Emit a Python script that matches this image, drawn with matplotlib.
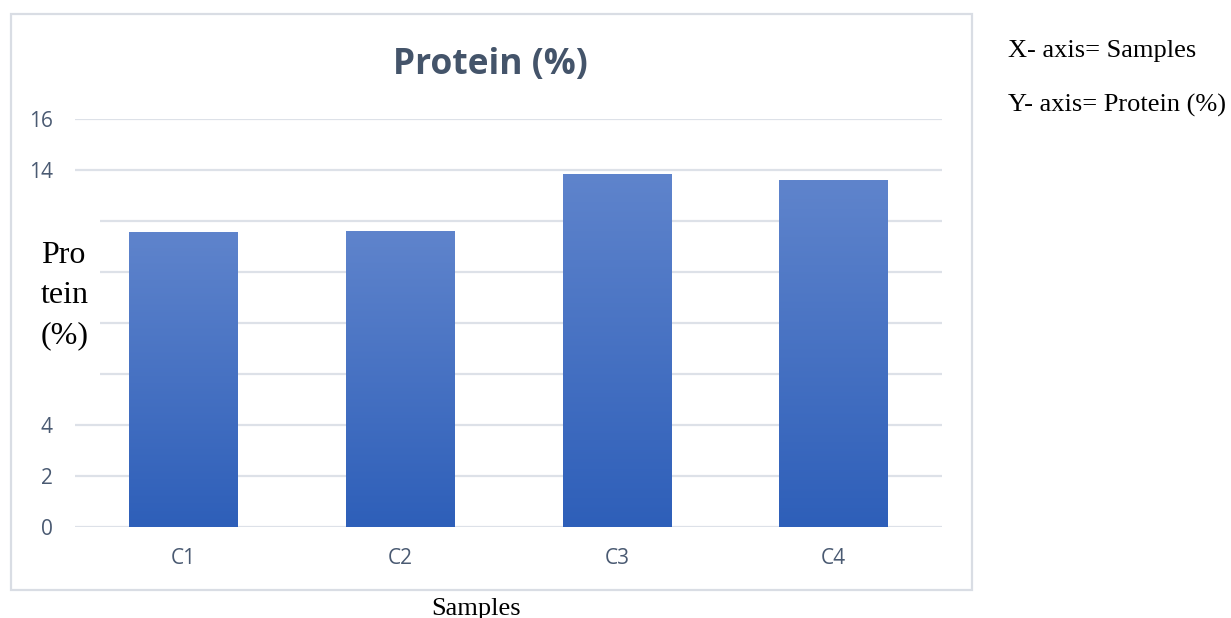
import matplotlib.pyplot as plt
import numpy as np
from matplotlib.colors import LinearSegmentedColormap
from matplotlib.patches import Rectangle

# protein content per sample
samples = ['C1', 'C2', 'C3', 'C4']
protein = [11.55, 11.6, 13.85, 13.6]
y_ticks = [0, 2, 4, 6, 8, 10, 12, 14, 16]
# tick values whose labels sit under the pasted caption
y_hidden = [6, 8, 10, 12]

W, H = 1231, 618
SLATE = '#44546a'


def fig_xy(px, py):
    """pixel position (from top-left) -> figure fraction"""
    return px / W, 1 - py / H


fig = plt.figure(figsize=(W / 100, H / 100), dpi=100)

# chart frame
x0, y0 = fig_xy(11, 590)
x1, y1 = fig_xy(972, 14)
fig.patches.append(Rectangle((x0, y0), x1 - x0, y1 - y0, transform=fig.transFigure,
                             fill=False, edgecolor='#d9dde4', linewidth=1.6, zorder=0))

left, bottom = fig_xy(75, 527)
right, top = fig_xy(942, 119)
ax = fig.add_axes([left, bottom, right - left, top - bottom])

x = np.arange(len(samples))
bars = ax.bar(x, protein, width=0.5, color='#4a72c4', zorder=2)

# vertical gradient fill inside each bar
grad_cmap = LinearSegmentedColormap.from_list('bar_grad', ['#2e5fb9', '#5f84cc'])
grad = np.linspace(0, 1, 256).reshape(-1, 1)
for b in bars:
    bx, bw, bh = b.get_x(), b.get_width(), b.get_height()
    im = ax.imshow(grad, cmap=grad_cmap, origin='lower', aspect='auto',
                   extent=[bx, bx + bw, 0, bh], zorder=3)
    im.set_clip_path(b)

ax.set_xlim(-0.5, len(samples) - 0.5)
ax.set_ylim(0, 16)
ax.set_yticks(y_ticks)
ax.set_yticklabels(['' if t in y_hidden else str(t) for t in y_ticks])
ax.set_xticks(x)
ax.set_xticklabels(samples)
ax.grid(axis='y', color='#dde1e8', linewidth=1.6, zorder=1)
ax.set_axisbelow(True)
for s in ax.spines.values():
    s.set_visible(False)
ax.tick_params(axis='both', length=0, labelsize=15, colors='#4a5a72',
               labelfontfamily='Open Sans')
ax.tick_params(axis='y', pad=16)
ax.tick_params(axis='x', pad=15)

fig.text(*fig_xy(490, 74), 'Protein (%)', ha='center', va='baseline',
         fontsize=25.5, fontweight='bold', color=SLATE, family='Open Sans')

# white patch with the pasted y-axis caption
bx0, by0 = fig_xy(30, 395)
bx1, by1 = fig_xy(100, 213)
fig.patches.append(Rectangle((bx0, by0), bx1 - bx0, by1 - by0, transform=fig.transFigure,
                             facecolor='white', edgecolor='none', zorder=5))
for line, base in zip(['Pro', 'tein', '(%)'], [263, 303, 343]):
    fig.text(*fig_xy(41, base), line, ha='left', va='baseline', fontsize=23,
             family='Liberation Serif', color='black', zorder=6)

fig.text(*fig_xy(476, 615), 'Samples', ha='center', va='baseline', fontsize=19,
         family='Liberation Serif', color='black')
fig.text(*fig_xy(1008, 57), 'X- axis= Samples', ha='left', va='baseline', fontsize=19,
         family='Liberation Serif', color='black')
fig.text(*fig_xy(1008, 112), 'Y- axis= Protein (%)', ha='left', va='baseline', fontsize=19,
         family='Liberation Serif', color='black')

fig.savefig('out.png', dpi=100)
